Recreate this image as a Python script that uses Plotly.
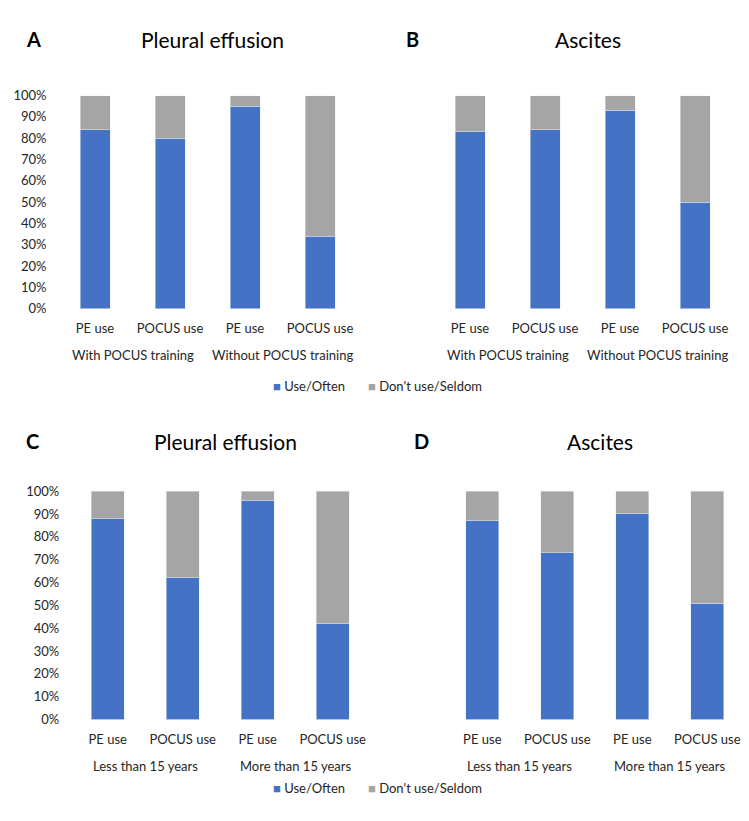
import plotly.graph_objects as go

W, H = 749, 821
FONT = "Lato"

categories = ["PE use", "POCUS use", "PE use", "POCUS use"]
groups_training = ["With POCUS training", "Without POCUS training"]
groups_years = ["Less than 15 years", "More than 15 years"]
series_names = ["Use/Often", "Don't use/Seldom"]

# Use/Often percentages
a_use = [84, 80, 95, 34]
b_use = [83, 84, 93, 50]
c_use = [88, 62, 96, 42]
d_use = [87, 73, 90, 51]

a_not = [100 - v for v in a_use]
b_not = [100 - v for v in b_use]
c_not = [100 - v for v in c_use]
d_not = [100 - v for v in d_use]

BLUE = "#4472C4"
GRAY = "#A5A5A5"
TXT = "#262626"

def px(x):
    return x / W

def py(y):
    return 1 - y / H

panels = [
    ("", a_use, a_not, (57.5, 357.5), (89.3, 306.7), 0.40, groups_training, "Pleural effusion", "A", 33, True),
    ("2", b_use, b_not, (432.5, 732.5), (89.3, 306.7), 0.40, groups_training, "Ascites", "B", 413, False),
    ("3", c_use, c_not, (70.2, 370.2), (492.7, 725.7), 0.44, groups_years, "Pleural effusion", "C", 32, True),
    ("4", d_use, d_not, (444.8, 744.8), (492.7, 725.7), 0.44, groups_years, "Ascites", "D", 421, False),
]

fig = go.Figure()
annotations = []
idx = list(range(len(categories)))

for key, use, notu, xd, yd, bw, grp, title, letter, lx, showy in panels:
    xa = "x" + key
    ya = "y" + key
    fig.add_trace(go.Bar(x=idx, y=[v / 100 for v in use], name=series_names[0],
                         marker_color=BLUE, width=bw, xaxis=xa, yaxis=ya,
                         showlegend=False))
    fig.add_trace(go.Bar(x=idx, y=[v / 100 for v in notu], name=series_names[1],
                         marker_color=GRAY, width=bw, xaxis=xa, yaxis=ya,
                         showlegend=False))
    xname = "xaxis" + key
    yname = "yaxis" + key
    fig.layout[xname] = dict(domain=[px(xd[0]), px(xd[1])], range=[-0.5, 3.5],
                              tickvals=idx, ticktext=categories, showgrid=False,
                              zeroline=False, showline=False, ticks="",
                              ticklabelstandoff=10,
                              tickfont=dict(family=FONT, size=13, color=TXT),
                              anchor=ya, fixedrange=True)
    fig.layout[yname] = dict(domain=[py(yd[1]), py(yd[0])], range=[0, 1],
                              tickformat=".0%", dtick=0.1, tick0=0,
                              showgrid=False, zeroline=False, showline=False,
                              ticks="", showticklabels=showy,
                              ticklabelstandoff=10,
                              tickfont=dict(family=FONT, size=13, color=TXT),
                              anchor=xa, fixedrange=True)
    gy = yd[1] + 47.5
    for gi, g in enumerate(grp):
        annotations.append(dict(text=g, x=0.5 + 2 * gi, xref=xa, y=py(gy), yref="paper",
                                showarrow=False, xanchor="center", yanchor="middle",
                                font=dict(family=FONT, size=13, color=TXT)))
    ty = yd[0] - 57.5 if key in ("", "2") else yd[0] - 51
    tcx = (xd[0] + xd[1]) / 2 + 5
    annotations.append(dict(text=title, x=px(tcx), y=py(ty), xref="paper", yref="paper",
                            showarrow=False, xanchor="center", yanchor="middle",
                            font=dict(family=FONT, size=21, color="#000000")))
    annotations.append(dict(text="<b>" + letter + "</b>", x=px(lx), y=py(ty), xref="paper",
                            yref="paper", showarrow=False, xanchor="center", yanchor="middle",
                            font=dict(family=FONT, size=20, color="#000000")))

for ly in (386, 796):
    annotations.append(dict(text="<span style='color:%s'>■</span> %s" % (BLUE, series_names[0]),
                            x=px(271), y=py(ly), xref="paper", yref="paper", showarrow=False,
                            xanchor="left", yanchor="middle",
                            font=dict(family=FONT, size=13, color=TXT)))
    annotations.append(dict(text="<span style='color:%s'>■</span> %s" % (GRAY, series_names[1]),
                            x=px(366), y=py(ly), xref="paper", yref="paper", showarrow=False,
                            xanchor="left", yanchor="middle",
                            font=dict(family=FONT, size=13, color=TXT)))

fig.update_layout(
    width=W, height=H,
    margin=dict(l=0, r=0, t=0, b=0),
    paper_bgcolor="white", plot_bgcolor="white",
    barmode="stack",
    annotations=annotations,
    showlegend=False,
)

fig.write_html("out.html", config={"displayModeBar": False},
               post_script="document.body.style.margin='0';document.body.style.padding='0';")
